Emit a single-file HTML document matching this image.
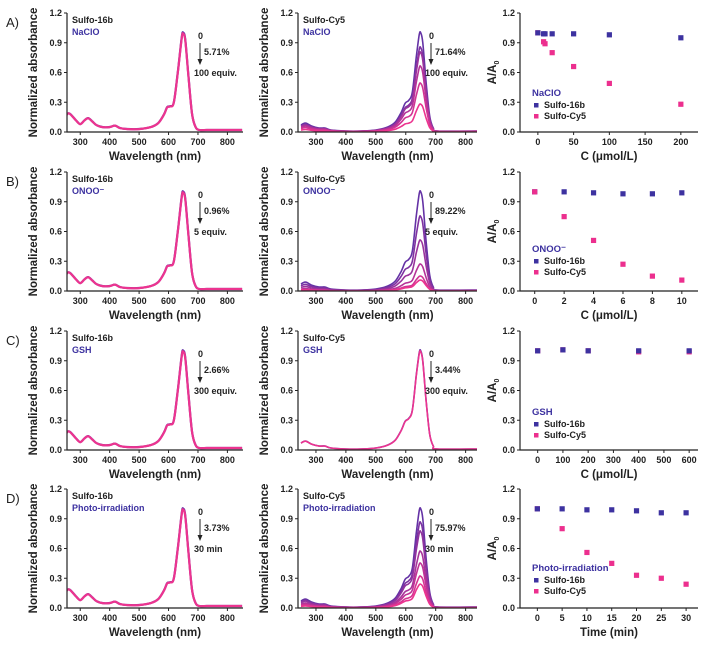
<!DOCTYPE html>
<html><head><meta charset="utf-8"><style>
html,body{margin:0;padding:0;background:#fff}
svg{display:block;font-family:"Liberation Sans",Arial,sans-serif}
.tk{font-size:9px;font-weight:bold;fill:#222}
.tt{font-size:11.5px;font-weight:bold;fill:#222}
</style></head><body>
<svg id="fig" width="718" height="645" viewBox="0 0 718 645"></svg>
<script>
// ---- data ----
const rowLetters = ["A)","B)","C)","D)"];
const analytes = ["NaClO","ONOO⁻","GSH","Photo-irradiation"];
const pct16b = ["5.71%","0.96%","2.66%","3.73%"];
const pctCy5 = ["71.64%","89.22%","3.44%","75.97%"];
const endLabel = ["100 equiv.","5 equiv.","300 equiv.","30 min"];
const specTicksY = [0.0,0.3,0.6,0.9,1.2];
const specTicksX = [300,400,500,600,700,800];
// base spectrum profiles (wavelength, absorbance)
const wl16b  = [250,260,270,285,300,315,327,340,355,375,400,418,435,460,500,540,565,585,595,605,618,632,645,650,657,668,680,692,705,730,850];
const abs16b = [0.16,0.19,0.17,0.12,0.08,0.12,0.14,0.11,0.07,0.05,0.05,0.065,0.04,0.03,0.03,0.05,0.09,0.18,0.25,0.26,0.30,0.62,0.96,1.0,0.93,0.55,0.18,0.05,0.02,0.02,0.02];
const wlCy5  = [250,265,285,310,330,350,400,450,500,540,565,585,598,610,622,635,645,650,657,668,680,692,705,850];
const absCy5 = [0.07,0.09,0.06,0.04,0.04,0.02,0.01,0.01,0.02,0.05,0.10,0.20,0.29,0.32,0.40,0.75,0.98,1.0,0.90,0.50,0.16,0.04,0.01,0.01];
// Cy5 decay peak values per row
const cy5Peaks = [[1.0,0.85,0.80,0.66,0.49,0.28],[1.0,0.75,0.51,0.27,0.15,0.11],[1.0,0.99],[1.0,0.86,0.77,0.57,0.45,0.32,0.24]];
// ratio panels
const ratioX = [[0,8,10,20,50,100,200],[0,2,4,6,8,10],[0,100,200,400,600],[0,5,10,15,20,25,30]];
const ratio16b = [[1.0,0.99,0.99,0.99,0.99,0.98,0.95],[1.0,1.0,0.99,0.98,0.98,0.99],[1.0,1.01,1.0,1.0,1.0],[1.0,1.0,0.99,0.99,0.98,0.96,0.96]];
const ratioCy5 = [[1.0,0.91,0.89,0.80,0.66,0.49,0.28],[1.0,0.75,0.51,0.27,0.15,0.11],[1.0,1.01,1.0,0.99,0.99],[1.0,0.80,0.56,0.45,0.33,0.30,0.24]];
const ratioTicksX = [[0,50,100,150,200],[0,2,4,6,8,10],[0,100,200,300,400,500,600],[0,5,10,15,20,25,30]];
const ratioDom = [[-25,224],[-1,11.1],[-70,635],[-3.5,32.4]];
const ratioXTitle = ["C (μmol/L)","C (μmol/L)","C (μmol/L)","Time (min)"];

// ---- layout ----
const NS="http://www.w3.org/2000/svg";
const svg=document.getElementById('fig');
const tops=[13,172,331,489], H=119;
function el(t,a,p){const e=document.createElementNS(NS,t);for(const k in a)e.setAttribute(k,a[k]);(p||svg).appendChild(e);return e;}
function txt(x,y,s,cls,extra,p){const e=el('text',Object.assign({x:x,y:y,class:cls||''},extra||{}),p);e.textContent=s;return e;}
function mix(t){const a=[100,50,165],b=[236,52,143];return 'rgb('+a.map((v,i)=>Math.round(v+(b[i]-v)*t)).join(',')+')';}
function smooth(pts){let d='M'+pts[0][0].toFixed(1)+','+pts[0][1].toFixed(1);
 for(let i=0;i<pts.length-1;i++){const p0=pts[Math.max(0,i-1)],p1=pts[i],p2=pts[i+1],p3=pts[Math.min(pts.length-1,i+2)];
  const c1=[p1[0]+(p2[0]-p0[0])/6,p1[1]+(p2[1]-p0[1])/6],c2=[p2[0]-(p3[0]-p1[0])/6,p2[1]-(p3[1]-p1[1])/6];
  d+='C'+c1.map(v=>v.toFixed(1))+' '+c2.map(v=>v.toFixed(1))+' '+p2[0].toFixed(1)+','+p2[1].toFixed(1);}
 return d;}
function axes(g,x0,x1,top,yTicks,xTicks,xs,ys,xTitle,yTitle,yTitleX){
 const bot=top+H;
 const ax=el('path',{d:`M${x0},${top} V${bot} H${x1}`,stroke:'#222','stroke-width':1.2,fill:'none'},g);
 
 yTicks.forEach(v=>{const y=ys(v);el('line',{x1:x0-3,x2:x0,y1:y,y2:y,stroke:'#222'},g);
  const t=txt(x0-5,y+3,v.toFixed(1),'tk',{'text-anchor':'end'},g);});
 xTicks.forEach(v=>{const x=xs(v);el('line',{x1:x,x2:x,y1:bot,y2:bot+3,stroke:'#222'},g);
  const t=txt(x,bot+13,String(v),'tk',{'text-anchor':'middle'},g);});
 const xt=txt((x0+x1)/2,bot+28,xTitle,'tt',{'text-anchor':'middle'},g);
 
 const yc=top+H/2;
 const yt=el('text',{x:yTitleX,y:yc,class:'tt','text-anchor':'middle',transform:`rotate(-90 ${yTitleX} ${yc})`},g);
 
 if(yTitle==='A/A0'){yt.textContent='A/A';const s=el('tspan',{style:'font-size:7px',dy:'3'},yt);s.textContent='0';}else yt.textContent=yTitle;
}
function specPanel(r,x0,x1,dom,wl,ab,peaks,name,pct,isCy5){
 const top=tops[r],bot=top+H;
 const g=el('g',{});
 
 
 const xs=v=>x0+(v-dom[0])/(dom[1]-dom[0])*(x1-x0);
 const ys=v=>bot-v/1.2*H;
 el('clipPath',{id:'c'+r+name},g);
 const cp=g.lastChild;el('rect',{x:x0,y:top-5,width:x1-x0,height:H+5},cp);
 const lg=el('g',{'clip-path':`url(#c${r}${name})`},g);
 peaks.forEach((p,i)=>{
  const pts=wl.map((w,j)=>[xs(w),ys(ab[j]*p)]);
  const t=peaks.length>1?i/(peaks.length-1):1;
  const path=el('path',{d:smooth(pts),fill:'none',stroke:mix(t),'stroke-width':isCy5?1.6:2.2},lg);
  
  
 });
 axes(g,x0,x1,top,specTicksY,specTicksX,xs,ys,'Wavelength (nm)','Normalized absorbance',x0-30);
 const n=txt(x0+5,top+10,name,'tt',{style:'font-size:9px'},g);
 const a=txt(x0+5,top+22,analytes[r],'tt',{style:'font-size:9px;fill:#3d32a0'},g);
 const ax=x0+133;
 const z=txt(ax-2,top+26,'0','tt',{style:'font-size:9px'},g);
 const ar=el('path',{d:`M${ax},${top+30} V${top+49}`,stroke:'#222','stroke-width':1},g);
 
 el('path',{d:`M${ax-2.5},${top+46} L${ax},${top+52} L${ax+2.5},${top+46}Z`,fill:'#222'},g);
 const pc=txt(ax+4,top+42,pct,'tt',{style:'font-size:9px'},g);
 const e=txt(ax-6,top+63,endLabel[r],'tt',{style:'font-size:9px'},g);
}
function ratioPanel(r){
 const x0=520,x1=698,top=tops[r],bot=top+H,dom=ratioDom[r];
 const g=el('g',{});
 const xs=v=>x0+(v-dom[0])/(dom[1]-dom[0])*(x1-x0);
 const ys=v=>bot-v/1.2*H;
 axes(g,x0,x1,top,specTicksY,ratioTicksX[r],xs,ys,ratioXTitle[r],'A/A0',x0-24);
 const draw=(vals,col,nm)=>vals.forEach((v,i)=>{const m=el('rect',{x:xs(ratioX[r][i])-2.6,y:ys(v)-2.6,width:5.2,height:5.2,fill:col},g);
  });
 if(r===1){draw(ratio16b[r],'#3d32a0','marker-sulfo-16b');draw(ratioCy5[r],'#ec2f8e','marker-sulfo-cy5');}
 else{draw(ratioCy5[r],'#ec2f8e','marker-sulfo-cy5');draw(ratio16b[r],'#3d32a0','marker-sulfo-16b');}
 const ly=[83,80,84,82][r]+top;
 const lt=txt(x0+12,ly,analytes[r],'tt',{style:'font-size:9.5px;fill:#3d32a0'},g);
 [['Sulfo-16b','#3d32a0'],['Sulfo-Cy5','#ec2f8e']].forEach((s,i)=>{
  const yy=ly+12+i*11;
  el('rect',{x:x0+14,y:yy-5,width:4.5,height:4.5,fill:s[1]},g);
  const t=txt(x0+24,yy,s[0],'tt',{style:'font-size:9px'},g);
 });
}
for(let r=0;r<4;r++){
 const L=txt(6,tops[r]+14,rowLetters[r],'',{style:'font-size:13px;fill:#222'});
 
 specPanel(r,67,243,[255,853],wl16b,abs16b,[1.0,0.99],'Sulfo-16b',pct16b[r],false);
 specPanel(r,298,477,[240,838],wlCy5,absCy5,cy5Peaks[r],'Sulfo-Cy5',pctCy5[r],true);
 ratioPanel(r);
}
</script>
</body></html>
